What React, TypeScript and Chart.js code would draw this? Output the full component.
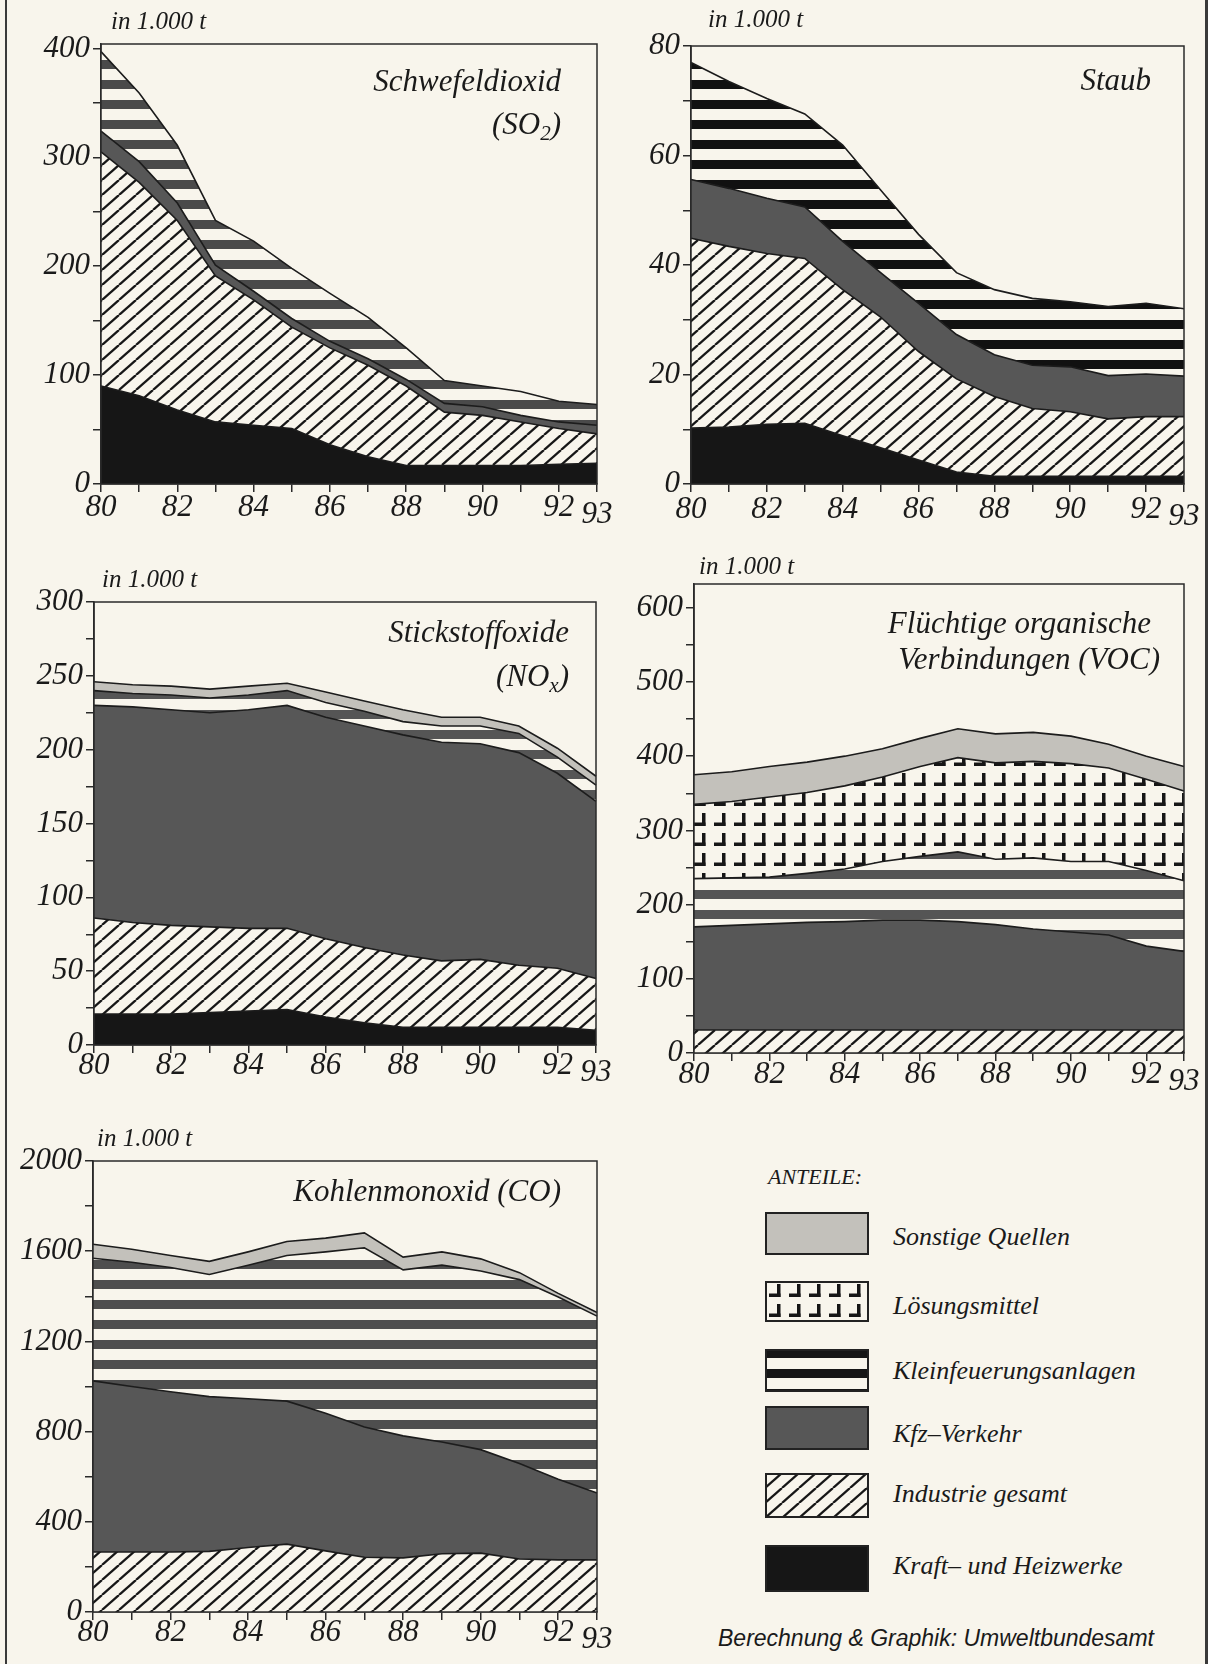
import React, { useEffect, useRef } from 'react';
import { Chart, registerables } from 'chart.js';

Chart.register(...registerables);

// ---------- data ----------
const YEARS = ['80', '81', '82', '83', '84', '85', '86', '87', '88', '89', '90', '91', '92', '93'];

const SERIES_NAMES = {
  kraft: 'Kraft– und Heizwerke',
  industrie: 'Industrie gesamt',
  kfz: 'Kfz–Verkehr',
  klein: 'Kleinfeuerungsanlagen',
  loesung: 'Lösungsmittel',
  sonstige: 'Sonstige Quellen',
};

// Schwefeldioxid (SO2), 1000 t
const SO2_KRAFT = [90, 81, 68, 57, 54, 51, 36, 25, 17, 17, 17, 17, 18, 19];
const SO2_INDUSTRIE = [215, 196, 174, 134, 115, 93, 89, 84, 73, 49, 46, 40, 33, 27];
const SO2_KFZ = [19, 19, 16, 10, 8, 8, 6, 6, 6, 8, 8, 6, 6, 8];
const SO2_KLEIN = [73, 63, 53, 41, 46, 46, 44, 38, 29, 21, 19, 22, 19, 19];

// Staub, 1000 t
const STAUB_KRAFT = [10.2, 10.4, 10.9, 11.1, 8.8, 6.6, 4.4, 2.2, 1.4, 1.4, 1.4, 1.4, 1.4, 1.4];
const STAUB_INDUSTRIE = [34.7, 33.0, 31.2, 30.1, 26.7, 23.9, 19.8, 17.0, 14.6, 12.4, 11.8, 10.5, 10.9, 10.9];
const STAUB_KFZ = [10.7, 10.6, 10.1, 9.4, 8.8, 8.1, 8.8, 8.1, 7.6, 7.9, 8.2, 7.9, 7.8, 7.4];
const STAUB_KLEIN = [21.4, 19.5, 18.2, 17.0, 17.6, 15.1, 12.6, 11.3, 11.9, 12.2, 11.9, 12.6, 12.9, 12.3];

// Stickstoffoxide (NOx), 1000 t
const NOX_KRAFT = [21, 21, 21, 22, 23, 24, 19, 15, 12, 12, 12, 12, 12, 10];
const NOX_INDUSTRIE = [65, 62, 60, 58, 56, 55, 53, 51, 49, 45, 46, 42, 40, 35];
const NOX_KFZ = [144, 146, 146, 145, 148, 151, 150, 150, 149, 148, 146, 144, 132, 120];
const NOX_KLEIN = [10, 9, 10, 10, 10, 10, 10, 10, 9, 11, 12, 13, 11, 11];
const NOX_SONSTIGE = [6, 6, 6, 6, 6, 5, 7, 7, 8, 6, 6, 5, 6, 6];

// Flüchtige organische Verbindungen (VOC), 1000 t
const VOC_INDUSTRIE = [31, 31, 31, 31, 31, 31, 31, 31, 31, 31, 31, 31, 31, 31];
const VOC_KFZ = [139, 141, 143, 145, 146, 148, 148, 146, 142, 136, 132, 128, 113, 106];
const VOC_KLEIN = [65, 64, 63, 66, 71, 79, 86, 94, 88, 96, 95, 99, 102, 95];
const VOC_LOESUNG = [100, 103, 108, 109, 112, 114, 121, 127, 130, 130, 132, 126, 123, 121];
const VOC_SONSTIGE = [40, 40, 41, 41, 40, 38, 38, 39, 39, 39, 37, 32, 31, 33];

// Kohlenmonoxid (CO), 1000 t
const CO_INDUSTRIE = [266, 266, 266, 269, 286, 301, 271, 243, 240, 258, 261, 235, 231, 231];
const CO_KFZ = [759, 734, 711, 686, 660, 634, 610, 577, 541, 496, 459, 423, 358, 297];
const CO_KLEIN = [544, 551, 551, 542, 592, 646, 716, 795, 736, 784, 792, 816, 808, 784];
const CO_SONSTIGE = [62, 58, 53, 58, 59, 62, 61, 66, 57, 59, 54, 31, 16, 16];

// y tick values
const SO2_TICKS = [0, 50, 100, 150, 200, 250, 300, 350, 400];
const STAUB_TICKS = [0, 10, 20, 30, 40, 50, 60, 70, 80];
const NOX_TICKS = [0, 25, 50, 75, 100, 125, 150, 175, 200, 225, 250, 275, 300];
const VOC_TICKS = [0, 50, 100, 150, 200, 250, 300, 350, 400, 450, 500, 550, 600];
const CO_TICKS = [0, 200, 400, 600, 800, 1000, 1200, 1400, 1600, 1800, 2000];

// ---------- styles ----------
const PAPER = '#f8f5ec';
const INK = '#161616';
const KFZ_GRAY = '#575757';
const SONST_GRAY = '#c3c1bb';
const LINE = '#1c1c1c';
const SERIF = '"Liberation Serif", "Times New Roman", serif';
const SANS = '"Liberation Sans", Arial, sans-serif';
const TICK_SIZE = 31;

function tile(w: number, h: number, draw: (g: CanvasRenderingContext2D) => void) {
  const c = document.createElement('canvas');
  c.width = w;
  c.height = h;
  const g = c.getContext('2d') as CanvasRenderingContext2D;
  draw(g);
  return c;
}

function hatchTile() {
  const w = 17, h = 15;
  return tile(w, h, (g) => {
    g.fillStyle = PAPER;
    g.fillRect(0, 0, w, h);
    g.strokeStyle = INK;
    g.lineWidth = 2.3;
    for (const dx of [-w, 0, w]) {
      g.beginPath();
      g.moveTo(dx, h);
      g.lineTo(dx + w, 0);
      g.stroke();
    }
  });
}

function stripeTile(color: string) {
  return tile(8, 20, (g) => {
    g.fillStyle = PAPER;
    g.fillRect(0, 0, 8, 20);
    g.fillStyle = color;
    g.fillRect(0, 0, 8, 9);
  });
}

function lTile() {
  return tile(20, 20, (g) => {
    g.fillStyle = PAPER;
    g.fillRect(0, 0, 20, 20);
    g.fillStyle = INK;
    g.fillRect(12, 3, 3.5, 13);
    g.fillRect(4, 12.5, 11.5, 3.5);
  });
}

function makeFills(ctx: CanvasRenderingContext2D, stripe: string): Record<string, any> {
  return {
    kraft: INK,
    industrie: ctx.createPattern(hatchTile(), 'repeat'),
    kfz: KFZ_GRAY,
    klein: ctx.createPattern(stripeTile(stripe), 'repeat'),
    loesung: ctx.createPattern(lTile(), 'repeat'),
    sonstige: SONST_GRAY,
  };
}

const boxPlugin = {
  id: 'plotBox',
  afterDraw(chart: any) {
    const { ctx, chartArea: a } = chart;
    ctx.save();
    ctx.strokeStyle = '#2a2a2a';
    ctx.lineWidth = 1.5;
    ctx.strokeRect(a.left, a.top, a.right - a.left, a.bottom - a.top);
    ctx.restore();
  },
};

type SeriesDef = { key: string; values: number[] };
type PanelCfg = {
  x: number; y: number; w: number; h: number;
  padTop: number; padRight: number; yWidth: number; xHeight: number; xPad: number;
  yMax: number; ticks: number[]; labelEvery: number; stripe: string;
  series: SeriesDef[];
};

function Panel(p: PanelCfg) {
  const ref = useRef<HTMLCanvasElement>(null);
  useEffect(() => {
    const canvas = ref.current as HTMLCanvasElement;
    const ctx = canvas.getContext('2d') as CanvasRenderingContext2D;
    const fills = makeFills(ctx, p.stripe);
    const datasets = p.series.map((s, i) => ({
      label: (SERIES_NAMES as any)[s.key],
      data: s.values,
      backgroundColor: fills[s.key],
      borderColor: LINE,
      borderWidth: 1.6,
      fill: i === 0 ? 'origin' : '-1',
      pointRadius: 0,
      tension: 0,
    }));
    const gridOpts = {
      display: true,
      drawOnChartArea: false,
      drawTicks: true,
      tickLength: 8,
      color: '#2a2a2a',
      lineWidth: 1.5,
    };
    const chart = new Chart(canvas, {
      type: 'line',
      data: { labels: YEARS, datasets },
      options: {
        responsive: false,
        animation: false,
        devicePixelRatio: 1,
        layout: { padding: { left: 0, top: p.padTop, right: p.padRight, bottom: 0 } },
        plugins: { legend: { display: false }, tooltip: { enabled: false }, title: { display: false } },
        elements: { point: { radius: 0 } },
        scales: {
          x: {
            type: 'category',
            offset: false,
            grid: gridOpts,
            border: { display: true, color: '#2a2a2a', width: 1.5 },
            ticks: {
              autoSkip: false,
              maxRotation: 0,
              minRotation: 0,
              padding: p.xPad,
              color: '#1a1a1a',
              font: (c: any) => ({
                family: SERIF,
                style: 'italic',
                size: TICK_SIZE,
                lineHeight: c.index === 13 ? 0.67 + 14 / TICK_SIZE : 0.67,
              }),
              callback: (_v: any, i: number) => (i % 2 === 0 || i === 13 ? YEARS[i] : ''),
            },
            afterFit: (s: any) => { s.height = p.xHeight; },
          },
          y: {
            type: 'linear',
            stacked: true,
            min: 0,
            max: p.yMax,
            grid: gridOpts,
            border: { display: true, color: '#2a2a2a', width: 1.5 },
            afterBuildTicks: (s: any) => { s.ticks = p.ticks.map((v) => ({ value: v })); },
            ticks: {
              padding: 3,
              color: '#1a1a1a',
              font: { family: SERIF, style: 'italic', size: TICK_SIZE, lineHeight: 0.67 },
              callback: (v: any) => (Number(v) % p.labelEvery === 0 ? String(v) : ''),
            },
            afterFit: (s: any) => { s.width = p.yWidth; },
          },
        },
      } as any,
      plugins: [boxPlugin],
    });
    return () => chart.destroy();
  }, []);
  return (
    <canvas
      ref={ref}
      width={p.w}
      height={p.h}
      style={{ position: 'absolute', left: p.x, top: p.y, width: p.w, height: p.h }}
    />
  );
}

function Swatch({ kind, x, y, w, h }: { kind: string; x: number; y: number; w: number; h: number }) {
  const ref = useRef<HTMLCanvasElement>(null);
  useEffect(() => {
    const c = ref.current as HTMLCanvasElement;
    const g = c.getContext('2d') as CanvasRenderingContext2D;
    const fills = makeFills(g, INK);
    g.fillStyle = fills[kind];
    g.fillRect(0, 0, w, h);
    g.strokeStyle = '#222';
    g.lineWidth = 2;
    g.strokeRect(1, 1, w - 2, h - 2);
  }, []);
  return <canvas ref={ref} width={w} height={h} style={{ position: 'absolute', left: x, top: y, width: w, height: h }} />;
}

function T({ children, left, right, top, size, ls, family }: any) {
  const style: any = {
    position: 'absolute',
    top,
    fontFamily: family || SERIF,
    fontStyle: 'italic',
    fontSize: size,
    lineHeight: `${size}px`,
    letterSpacing: ls || 0,
    color: '#1a1a1a',
    whiteSpace: 'nowrap',
  };
  if (right !== undefined) { style.right = right; style.textAlign = 'right'; } else { style.left = left; }
  return <div style={style}>{children}</div>;
}

const sub = (s: string) => (
  <span style={{ fontSize: '0.68em', position: 'relative', top: '0.3em' }}>{s}</span>
);

const PANELS: PanelCfg[] = [
  {
    x: 0, y: 0, w: 630, h: 540, padTop: 44, padRight: 33, yWidth: 101, xHeight: 56, xPad: 5,
    yMax: 404, ticks: SO2_TICKS, labelEvery: 100, stripe: '#4a4a4a',
    series: [
      { key: 'kraft', values: SO2_KRAFT },
      { key: 'industrie', values: SO2_INDUSTRIE },
      { key: 'kfz', values: SO2_KFZ },
      { key: 'klein', values: SO2_KLEIN },
    ],
  },
  {
    x: 630, y: 0, w: 578, h: 540, padTop: 46, padRight: 24, yWidth: 61, xHeight: 56, xPad: 7,
    yMax: 80, ticks: STAUB_TICKS, labelEvery: 20, stripe: '#111111',
    series: [
      { key: 'kraft', values: STAUB_KRAFT },
      { key: 'industrie', values: STAUB_INDUSTRIE },
      { key: 'kfz', values: STAUB_KFZ },
      { key: 'klein', values: STAUB_KLEIN },
    ],
  },
  {
    x: 0, y: 550, w: 630, h: 540, padTop: 52, padRight: 34, yWidth: 94, xHeight: 45, xPad: 2,
    yMax: 300, ticks: NOX_TICKS, labelEvery: 50, stripe: '#555555',
    series: [
      { key: 'kraft', values: NOX_KRAFT },
      { key: 'industrie', values: NOX_INDUSTRIE },
      { key: 'kfz', values: NOX_KFZ },
      { key: 'klein', values: NOX_KLEIN },
      { key: 'sonstige', values: NOX_SONSTIGE },
    ],
  },
  {
    x: 630, y: 550, w: 578, h: 540, padTop: 34, padRight: 24, yWidth: 64, xHeight: 37, xPad: 3,
    yMax: 632, ticks: VOC_TICKS, labelEvery: 100, stripe: '#555555',
    series: [
      { key: 'industrie', values: VOC_INDUSTRIE },
      { key: 'kfz', values: VOC_KFZ },
      { key: 'klein', values: VOC_KLEIN },
      { key: 'loesung', values: VOC_LOESUNG },
      { key: 'sonstige', values: VOC_SONSTIGE },
    ],
  },
  {
    x: 0, y: 1100, w: 630, h: 564, padTop: 61, padRight: 33, yWidth: 93, xHeight: 52, xPad: 2,
    yMax: 2000, ticks: CO_TICKS, labelEvery: 400, stripe: '#4e4e4e',
    series: [
      { key: 'industrie', values: CO_INDUSTRIE },
      { key: 'kfz', values: CO_KFZ },
      { key: 'klein', values: CO_KLEIN },
      { key: 'sonstige', values: CO_SONSTIGE },
    ],
  },
];

const LEGEND = [
  { kind: 'sonstige', top: 1212, h: 43, textTop: 1224 },
  { kind: 'loesung', top: 1281, h: 41, textTop: 1293 },
  { kind: 'klein', top: 1349, h: 43, textTop: 1358 },
  { kind: 'kfz', top: 1406, h: 44, textTop: 1421 },
  { kind: 'industrie', top: 1473, h: 45, textTop: 1481 },
  { kind: 'kraft', top: 1545, h: 47, textTop: 1553 },
];

export default function App() {
  const W = 1208;
  return (
    <div style={{ position: 'absolute', left: 0, top: 0, width: W, height: 1664, background: PAPER, overflow: 'hidden' }}>
      {PANELS.map((p, i) => <Panel key={i} {...p} />)}

      <T left={111} top={8} size={25}>in 1.000 t</T>
      <T left={708} top={6} size={25}>in 1.000 t</T>
      <T left={102} top={566} size={25}>in 1.000 t</T>
      <T left={699} top={553} size={25}>in 1.000 t</T>
      <T left={97} top={1125} size={25}>in 1.000 t</T>

      <T right={W - 561} top={65} size={31}>Schwefeldioxid</T>
      <T right={W - 561} top={108} size={31}>(SO{sub('2')})</T>
      <T right={W - 1151} top={64} size={31}>Staub</T>
      <T right={W - 569} top={616} size={31}>Stickstoffoxide</T>
      <T right={W - 569} top={660} size={31}>(NO{sub('x')})</T>
      <T right={W - 1151} top={607} size={31}>Flüchtige organische</T>
      <T right={W - 1160} top={643} size={31}>Verbindungen (VOC)</T>
      <T right={W - 561} top={1175} size={31}>Kohlenmonoxid (CO)</T>

      <T left={768} top={1166} size={22}>ANTEILE:</T>
      {LEGEND.map((l) => (
        <React.Fragment key={l.kind}>
          <Swatch kind={l.kind} x={765} y={l.top} w={104} h={l.h} />
          <T left={893} top={l.textTop} size={26}>{(SERIES_NAMES as any)[l.kind]}</T>
        </React.Fragment>
      ))}
      <T left={718} top={1627} size={23} family={SANS}>Berechnung &amp; Graphik: Umweltbundesamt</T>

      <div style={{ position: 'absolute', left: 5, top: 0, width: 2, height: 1664, background: '#3a3a3a' }} />
      <div style={{ position: 'absolute', left: 1205, top: 0, width: 3, height: 1664, background: '#3a3a3a' }} />
    </div>
  );
}
